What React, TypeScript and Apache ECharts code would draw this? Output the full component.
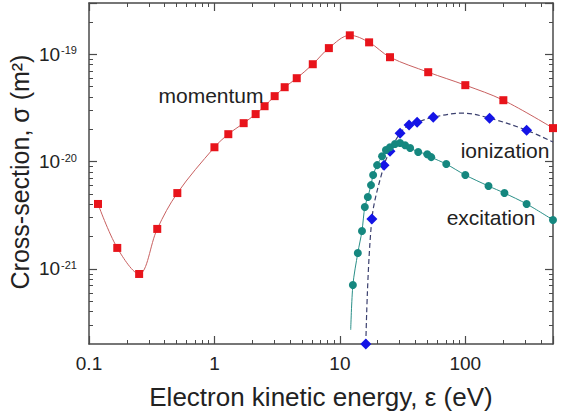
import React, { useEffect, useRef } from 'react';
import * as echarts from 'echarts';

// ---- data (energy in eV, cross-section in m^2) ----
const momentumE = [0.118, 0.168, 0.251, 0.35, 0.506, 1.0, 1.29, 1.71, 2.13, 2.51, 3.02, 3.63, 4.53, 6.08, 8.17, 12.0, 17.1, 25.1, 50.6, 100, 201, 500];
const momentumSigma = [4.03e-21, 1.57e-21, 8.98e-22, 2.36e-21, 5.09e-21, 1.36e-20, 1.8e-20, 2.28e-20, 2.77e-20, 3.28e-20, 4.07e-20, 4.93e-20, 5.98e-20, 8.07e-20, 1.14e-19, 1.5e-19, 1.29e-19, 9.38e-20, 6.8e-20, 5.15e-20, 3.73e-20, 2.05e-20];

const ionE = [16.1, 18.0, 22.5, 25.1, 30.2, 35.6, 41.3, 55.5, 94.6, 156, 308, 500];
const ionSigma = [2.0e-22, 2.92e-21, 9.27e-21, 1.25e-20, 1.84e-20, 2.19e-20, 2.33e-20, 2.59e-20, 2.83e-20, 2.54e-20, 1.96e-20, 1.52e-20];
const ionMarked = [1, 1, 1, 1, 1, 1, 1, 1, 0, 1, 1, 0];

const excE = [12.2, 12.7, 13.9, 15.0, 15.8, 16.7, 17.7, 18.4, 19.8, 21.7, 23.3, 25.1, 27.5, 30.2, 33.1, 36.3, 42.1, 49.7, 53.5, 70.5, 100, 153, 205, 308, 500];
const excSigma = [2.71e-22, 7.1e-22, 1.41e-21, 2.26e-21, 3.78e-21, 4.68e-21, 6.04e-21, 7.49e-21, 9.27e-21, 1.12e-20, 1.28e-20, 1.36e-20, 1.46e-20, 1.49e-20, 1.42e-20, 1.34e-20, 1.23e-20, 1.17e-20, 1.1e-20, 9.48e-21, 7.49e-21, 5.92e-21, 5.09e-21, 4.03e-21, 2.86e-21];
const excMarked = [0, 1, 1, 1, 1, 1, 1, 1, 1, 1, 1, 1, 1, 1, 1, 1, 1, 1, 1, 1, 1, 1, 1, 1, 1];

// ---- axes ----
const xMin = 0.1;
const xMax = 500;
const yMin = 2e-22;
const yMax = 3e-19;
const xDecades = [-1, 0, 1, 2];
const xTickLabels = ['0.1', '1', '10', '100'];
const yDecades = [-21, -20, -19];
const minorMultipliers = [2, 3, 4, 5, 6, 7, 8, 9];

const FONT = '"Liberation Sans", Arial, Helvetica, sans-serif';
const TEXT = '#222';
const AXIS = '#4a4a4a';

function minorLog(lo: number, hi: number): number[] {
  const out: number[] = [];
  for (let d = Math.floor(lo) - 1; d <= Math.ceil(hi); d++) {
    for (const m of minorMultipliers) {
      const v = d + Math.log10(m);
      if (v > lo + 1e-9 && v < hi - 1e-9) out.push(v);
    }
  }
  return out;
}

function decadeOf(v: number): number | null {
  const e = Math.log10(v);
  const r = Math.round(e);
  return Math.abs(e - r) < 1e-6 ? r : null;
}

function pairs(xs: number[], ys: number[], marked?: number[]) {
  return xs.map((x, i) => {
    const item: any = { value: [x, ys[i]] };
    if (marked && !marked[i]) item.symbol = 'none';
    return item;
  });
}

export default function App() {
  const ref = useRef<HTMLDivElement>(null);

  useEffect(() => {
    if (!ref.current) return;
    const chart = echarts.init(ref.current, undefined, { renderer: 'svg' });

    const lxMin = Math.log10(xMin);
    const lxMax = Math.log10(xMax);
    const lyMin = Math.log10(yMin);
    const lyMax = Math.log10(yMax);

    const majorTick = { show: true, inside: true, length: 8, lineStyle: { color: AXIS, width: 1.2 } };
    const minorTickStyle = { color: AXIS, width: 1 };
    const line = { show: true, onZero: false, lineStyle: { color: AXIS, width: 1.5 } };
    const hiddenLine = { show: false, onZero: false };

    const xMainFmt = (v: number) => {
      const d = decadeOf(v);
      if (d === null) return '';
      const i = xDecades.indexOf(d);
      return i >= 0 ? xTickLabels[i] : '';
    };
    const yMainFmt = (v: number) => {
      const d = decadeOf(v);
      if (d === null || yDecades.indexOf(d) < 0) return '';
      return `{b|10}{s|${d}}`;
    };

    const minorX = (position: string) => ({
      type: 'value', min: lxMin, max: lxMax, position,
      axisLine: hiddenLine,
      axisTick: { show: true, inside: true, length: 4, customValues: minorLog(lxMin, lxMax), lineStyle: minorTickStyle },
      axisLabel: { show: false }, splitLine: { show: false },
    });
    const minorY = (position: string) => ({
      type: 'value', min: lyMin, max: lyMax, position,
      axisLine: hiddenLine,
      axisTick: { show: true, inside: true, length: 4, customValues: minorLog(lyMin, lyMax), lineStyle: minorTickStyle },
      axisLabel: { show: false }, splitLine: { show: false },
    });

    const option: any = {
      animation: false,
      backgroundColor: '#fff',
      grid: { left: 89, right: 11, top: 3, bottom: 70, containLabel: false, outerBoundsMode: 'none' },
      xAxis: [
        {
          type: 'log', logBase: 10, min: xMin, max: xMax, position: 'bottom',
          axisLine: line, axisTick: majorTick,
          axisLabel: { formatter: xMainFmt, color: TEXT, fontSize: 19, fontFamily: FONT, margin: 10, showMinLabel: true, showMaxLabel: true },
          splitLine: { show: false }, minorTick: { show: false }, minorSplitLine: { show: false },
          name: 'Electron kinetic energy, ε (eV)', nameLocation: 'middle', nameGap: 40,
          nameTextStyle: { fontSize: 26, color: TEXT, fontFamily: FONT },
        },
        {
          type: 'log', logBase: 10, min: xMin, max: xMax, position: 'top',
          axisLine: line, axisTick: majorTick, axisLabel: { show: false },
          splitLine: { show: false },
        },
        minorX('bottom'),
        minorX('top'),
      ],
      yAxis: [
        {
          type: 'log', logBase: 10, min: yMin, max: yMax, position: 'left',
          axisLine: line, axisTick: majorTick,
          axisLabel: {
            formatter: yMainFmt, margin: 12, color: TEXT, fontFamily: FONT,
            rich: {
              b: { fontSize: 19, color: TEXT, fontFamily: FONT },
              s: { fontSize: 11, color: TEXT, fontFamily: FONT, verticalAlign: 'top', padding: [0, 0, 0, 1] },
            },
          },
          splitLine: { show: false }, minorTick: { show: false },
        },
        {
          type: 'log', logBase: 10, min: yMin, max: yMax, position: 'right',
          axisLine: line, axisTick: majorTick, axisLabel: { show: false },
          splitLine: { show: false },
        },
        minorY('left'),
        minorY('right'),
      ],
      series: [
        {
          name: 'momentum', type: 'line', xAxisIndex: 0, yAxisIndex: 0,
          data: pairs(momentumE, momentumSigma), smooth: 0.35,
          symbol: 'rect', symbolSize: 8,
          itemStyle: { color: '#e8141b' },
          lineStyle: { color: '#c86060', width: 1 },
          clip: true, z: 2,
        },
        {
          name: 'ionization', type: 'line', xAxisIndex: 0, yAxisIndex: 0,
          data: pairs(ionE, ionSigma, ionMarked), smooth: 0.35,
          symbol: 'diamond', symbolSize: 11,
          itemStyle: { color: '#1414e6' },
          lineStyle: { color: '#3a3f6e', width: 1.2, type: [5, 3] },
          clip: true, z: 3,
        },
        {
          name: 'excitation', type: 'line', xAxisIndex: 0, yAxisIndex: 0,
          data: pairs(excE, excSigma, excMarked), smooth: 0.3,
          symbol: 'circle', symbolSize: 8,
          itemStyle: { color: '#15877f' },
          lineStyle: { color: '#2a8f88', width: 1 },
          clip: true, z: 4,
        },
      ],
      graphic: [
        {
          type: 'text', x: 20, y: 172, rotation: Math.PI / 2, z: 10,
          style: { text: 'Cross-section, σ (m²)', font: `25px ${FONT}`, fill: TEXT, align: 'center', verticalAlign: 'middle' },
        },
        { type: 'text', x: 211, y: 95, z: 10, style: { text: 'momentum', font: `21px ${FONT}`, fill: TEXT, align: 'center', verticalAlign: 'middle' } },
        { type: 'text', x: 505, y: 150, z: 10, style: { text: 'ionization', font: `21px ${FONT}`, fill: TEXT, align: 'center', verticalAlign: 'middle' } },
        { type: 'text', x: 491, y: 217, z: 10, style: { text: 'excitation', font: `21px ${FONT}`, fill: TEXT, align: 'center', verticalAlign: 'middle' } },
      ],
    };

    chart.setOption(option);
    return () => chart.dispose();
  }, []);

  return (
    <div
      ref={ref}
      style={{ position: 'fixed', left: 0, top: 0, width: 564, height: 414, background: '#fff' }}
    />
  );
}
